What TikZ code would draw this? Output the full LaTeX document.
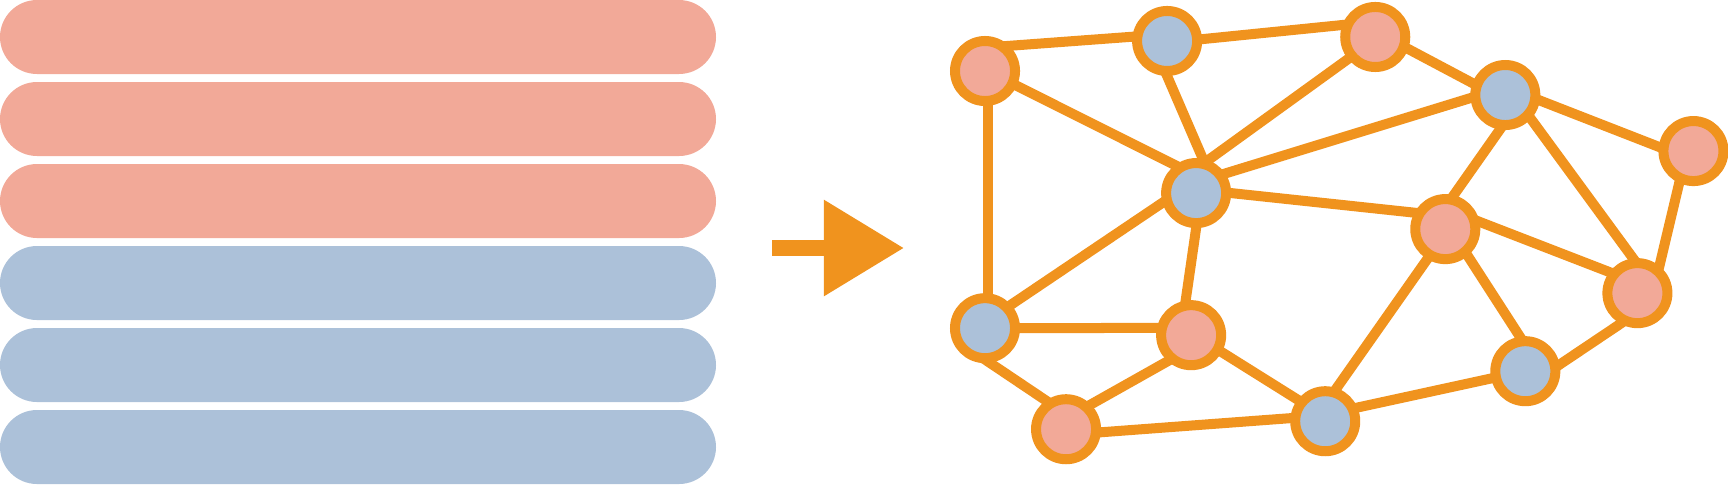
\documentclass[tikz,border=0pt]{standalone}
\usetikzlibrary{arrows.meta,positioning,backgrounds}
\definecolor{linkO}{HTML}{F0931E}
\definecolor{fillR}{HTML}{F2A998}
\definecolor{fillB}{HTML}{ACC1D9}
\begin{document}
\begin{tikzpicture}[x=0.01cm,y=-0.01cm,on grid,
    every edge/.style={draw=linkO,line width=0.1cm,shorten <=-0.08cm,shorten >=-0.08cm}]
  % round nodes with a thick orange ring
  \tikzstyle{nodeR}=[circle,line width=0.1cm,draw=linkO,fill=fillR,minimum size=0.6cm,inner sep=0pt]
  \tikzstyle{nodeB}=[circle,line width=0.1cm,draw=linkO,fill=fillB,minimum size=0.6cm,inner sep=0pt]
  \useasboundingbox (0,0) rectangle (1728,484);

  % stacked bars
  \foreach \i/\c in {0/fillR,1/fillR,2/fillR,3/fillB,4/fillB,5/fillB}
    \fill[\c,rounded corners=0.37cm] (0,82*\i) rectangle (716,82*\i+74);

  % arrow
  \coordinate (a_0) at (772,248);
  \coordinate (a_1) at (904,248);
  \draw[linkO,line width=0.16cm,-{Triangle[length=0.8cm,width=0.92cm]}] (a_0) -- (a_1);

  % graph
  \node[nodeR] (q_a) at (985,71) {};
  \node[nodeB] (q_b) [above right=0.30cm and 1.82cm of q_a] {};
  \node[nodeR] (q_c) [above right=0.04cm and 2.08cm of q_b] {};
  \node[nodeB] (q_d) [below right=0.58cm and 1.30cm of q_c] {};
  \node[nodeR] (q_e) [below right=0.56cm and 1.88cm of q_d] {};
  \node[nodeB] (q_f) [below right=1.52cm and 0.29cm of q_b] {};
  \node[nodeR] (q_g) [below right=0.36cm and 2.49cm of q_f] {};
  \node[nodeR] (q_h) [below right=0.64cm and 1.92cm of q_g] {};
  \node[nodeB] (q_i) [below=2.57cm of q_a] {};
  \node[nodeR] (q_j) [below right=0.07cm and 2.06cm of q_i] {};
  \node[nodeB] (q_k) [below left=0.78cm and 1.12cm of q_h] {};
  \node[nodeR] (q_l) [below right=1.01cm and 0.81cm of q_i] {};
  \node[nodeB] (q_m) [below right=0.86cm and 1.34cm of q_j] {};

  \begin{scope}[on background layer]
  \path (q_a.46) edge (q_b.173);
  \path (q_b.3) edge (q_c.160);
  \path (q_a.-25) edge (q_f.127);
  \path (q_b.-90) edge (q_f.79);
  \path (q_c.-141) edge (q_f.70);
  \path (q_c.-20) edge (q_d.160);
  \path (q_d.185) edge (q_f.34);
  \path (q_d.-9) edge (q_e.173);
  \path (q_d.-99) edge (q_g.76);
  \path (q_d.-43) edge (q_h.97);
  \path (q_e.-114) edge (q_h.51);
  \path (q_f.0) edge (q_g.152);
  \path (q_f.196) edge (q_i.42);
  \path (q_f.-90) edge (q_j.99);
  \path (q_a.-85) edge (q_i.85);
  \path (q_g.12) edge (q_h.143);
  \path (q_g.-121) edge (q_m.71);
  \path (q_g.-50) edge (q_k.99);
  \path (q_h.-119) edge (q_k.11);
  \path (q_i.0) edge (q_j.168);
  \path (q_i.-82) edge (q_l.125);
  \path (q_j.-132) edge (q_l.45);
  \path (q_j.-29) edge (q_m.142);
  \path (q_l.-5) edge (q_m.175);
  \path (q_m.23) edge (q_k.192);
  \end{scope}
\end{tikzpicture}
\end{document}
